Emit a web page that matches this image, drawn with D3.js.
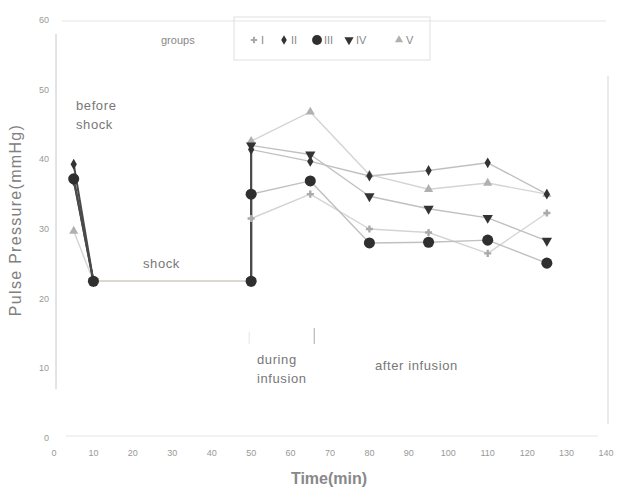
<!DOCTYPE html>
<html>
<head>
<meta charset="utf-8">
<script src="https://cdn.jsdelivr.net/npm/d3@7"></script>
<style>
  html, body { margin: 0; padding: 0; background: #fff; }
  svg { display: block; font-family: "Liberation Sans", Arial, sans-serif; }
  .tick-lbl { fill: #999; font-size: 9px; }
  .note { fill: #777; font-size: 13px; letter-spacing: 0.6px; }
  .title { fill: #808080; font-size: 16px; }
</style>
</head>
<body>
<div id="chart"></div>
<script>
// Pulse pressure per group
var times = [5, 10, 50, 50, 65, 80, 95, 110, 125];
var groupNames = ["I", "II", "III", "IV", "V"];
var groupI   = [36.8, 22.5, 22.5, 31.5, 35.0, 30.0, 29.5, 26.5, 32.3];
var groupII  = [39.3, 22.5, 22.5, 41.4, 39.7, 37.6, 38.4, 39.5, 35.0];
var groupIII = [37.2, 22.5, 22.5, 35.0, 36.9, 28.0, 28.1, 28.4, 25.1];
var groupIV  = [37.0, 22.5, 22.5, 42.0, 40.7, 34.7, 32.9, 31.6, 28.3];
var groupV   = [29.7, 22.5, 22.5, 42.6, 46.8, 37.8, 35.7, 36.6, 35.0];
var xTicks = d3.range(0, 141, 10);
var yTicks = d3.range(0, 61, 10);

var W = 621, H = 490;
var svg = d3.select("#chart").append("svg").attr("width", W).attr("height", H);

var x = d3.scaleLinear().domain([0, 140]).range([54, 606]);
var y = d3.scaleLinear().domain([0, 60]).range([438, 20]);

// faint frame of the scanned plot
svg.append("line").attr("x1", x(0) + 2).attr("x2", x(0) + 2).attr("y1", y(58)).attr("y2", y(7))
  .attr("stroke", "#c8c8c8").attr("stroke-width", 1);
svg.append("line").attr("x1", x(140) + 2).attr("x2", x(140) + 2).attr("y1", y(52)).attr("y2", y(2))
  .attr("stroke", "#d6d6d6").attr("stroke-width", 1);
svg.append("line").attr("x1", x(2)).attr("x2", x(140)).attr("y1", y(60) + 1).attr("y2", y(60) + 1)
  .attr("stroke", "#eeeeee").attr("stroke-width", 1.5);
svg.append("line").attr("x1", x(3)).attr("x2", x(138)).attr("y1", y(0) - 2).attr("y2", y(0) - 2)
  .attr("stroke", "#f0eeea").attr("stroke-width", 1.5);

// tick labels (no tick marks in the figure)
svg.append("g").selectAll("text").data(yTicks).join("text")
  .attr("class", "tick-lbl").attr("x", 49).attr("y", function (d) { return y(d) + 3; })
  .attr("text-anchor", "end").text(function (d) { return d; });
svg.append("g").selectAll("text").data(xTicks).join("text")
  .attr("class", "tick-lbl").attr("x", function (d) { return x(d); }).attr("y", 456)
  .attr("text-anchor", "middle").text(function (d) { return d; });

svg.append("text").attr("class", "title").attr("x", 329).attr("y", 484)
  .attr("text-anchor", "middle").style("font-weight", "bold").style("fill", "#888").text("Time(min)");
svg.append("text").attr("class", "title")
  .attr("transform", "translate(21,220) rotate(-90)")
  .attr("text-anchor", "middle").style("letter-spacing", "1.3px").text("Pulse Pressure(mmHg)");

// phase annotations
function note(tx, ty, lines) {
  var t = svg.append("text").attr("class", "note").attr("x", tx).attr("y", ty);
  lines.forEach(function (s, i) { t.append("tspan").attr("x", tx).attr("dy", i ? 19 : 0).text(s); });
}
note(76, 110, ["before", "shock"]);
note(143, 268, ["shock"]);
note(257, 364, ["during", "infusion"]);
note(375, 370, ["after infusion"]);
svg.append("line").attr("x1", x(66)).attr("x2", x(66)).attr("y1", 328).attr("y2", 344)
  .attr("stroke", "#aaa").attr("stroke-width", 1);
svg.append("line").attr("x1", x(49.5)).attr("x2", x(49.5)).attr("y1", 332).attr("y2", 344)
  .attr("stroke", "#e4e4e4").attr("stroke-width", 1);

// series
var series = [
  { name: "I",   vals: groupI,   sym: d3.symbolCross,    size: 28, fill: "#aaa", dark: false },
  { name: "V",   vals: groupV,   sym: d3.symbolTriangle, size: 36, fill: "#b0b0b0", dark: false },
  { name: "II",  vals: groupII,  sym: d3.symbolDiamond,  size: 34, fill: "#333", dark: true },
  { name: "IV",  vals: groupIV,  sym: d3.symbolTriangle, size: 46, fill: "#333", dark: true, flip: true },
  { name: "III", vals: groupIII, sym: d3.symbolCircle,   size: 96, fill: "#2f2f2f", dark: true }
];

var gLines = svg.append("g"), gPts = svg.append("g");
series.forEach(function (s) {
  var pts = times.map(function (t, i) { return [x(t), y(s.vals[i])]; });
  for (var i = 0; i < pts.length - 1; i++) {
    var steep = (i === 0 || i === 2);   // the fall into shock and the rise at infusion start
    var stroke = s.dark && steep ? "#4a4a4a" : (s.dark ? "#c0c0c0" : "#d4d4d4");
    gLines.append("line")
      .attr("x1", pts[i][0]).attr("y1", pts[i][1]).attr("x2", pts[i + 1][0]).attr("y2", pts[i + 1][1])
      .attr("stroke", i === 1 ? "#dcd8d0" : stroke).attr("stroke-width", s.dark && steep ? 2 : 1.4);
  }
  gPts.append("g").selectAll("path").data(pts).join("path")
    .attr("transform", function (p) { return "translate(" + p[0] + "," + p[1] + ")" + (s.flip ? " rotate(180)" : ""); })
    .attr("d", d3.symbol().type(s.sym).size(s.size))
    .attr("fill", s.fill);
});

// legend
svg.append("rect").attr("x", 234).attr("y", 17).attr("width", 196).attr("height", 43)
  .attr("fill", "none").attr("stroke", "#e0e0e0").attr("stroke-width", 1);
svg.append("text").attr("x", 161).attr("y", 44).attr("fill", "#888").style("font-size", "11px").text("groups");
var legendX = [254, 284, 317, 349, 399];
var legendOrder = ["I", "II", "III", "IV", "V"];
legendOrder.forEach(function (nm, i) {
  var s = series.filter(function (d) { return d.name === nm; })[0];
  svg.append("path")
    .attr("transform", "translate(" + legendX[i] + ",40)" + (s.flip ? " rotate(180)" : ""))
    .attr("d", d3.symbol().type(s.sym).size(s.size * 0.8)).attr("fill", s.fill);
  svg.append("text").attr("x", legendX[i] + 7).attr("y", 44).attr("fill", "#888")
    .style("font-size", "11px").text(groupNames[i]);
});
</script>
</body>
</html>
